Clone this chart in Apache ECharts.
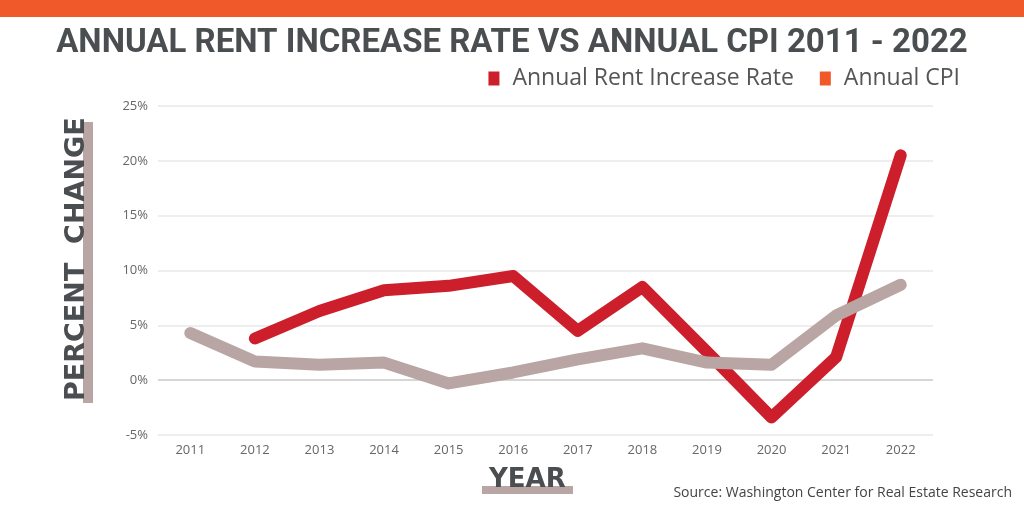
<!DOCTYPE html>
<html>
<head>
<meta charset="utf-8">
<script src="https://cdn.jsdelivr.net/npm/echarts@6/dist/echarts.min.js"></script>
<style>
    html, body {margin: 0; padding: 0; background: #fff;}
    #main {width: 1024px; height: 512px;}
</style>
</head>
<body>
<div id="main"></div>
<script>
// 年份
var years = ['2011', '2012', '2013', '2014', '2015', '2016', '2017', '2018', '2019', '2020', '2021', '2022'];
// 租金年增长率 (2011 无数据)
var rentRate = [null, 3.8, 6.3, 8.2, 8.6, 9.5, 4.5, 8.5, 2.6, -3.4, 2.1, 20.5];
// CPI
var cpiRate = [4.3, 1.7, 1.4, 1.6, -0.3, 0.7, 1.9, 2.9, 1.6, 1.4, 5.9, 8.7];
var yTicks = [-5, 0, 5, 10, 15, 20, 25];

var chart = document.getElementById('main');
var myChart = echarts.init(chart);

function loadingOption() {
    var option = {
        animation: false,
        backgroundColor: '#fff',
        title: {
            text: 'ANNUAL RENT INCREASE RATE VS ANNUAL CPI 2011 - 2022',
            left: 'center',
            top: 22,
            textStyle: {
                color: '#4b4e51',
                fontSize: 33,
                fontWeight: 'bold',
                fontFamily: 'Roboto'
            }
        },
        legend: {
            right: 59,
            top: 62,
            itemWidth: 11,
            itemHeight: 14,
            itemGap: 26,
            icon: 'rect',
            textStyle: {
                color: '#555',
                fontSize: 23,
                fontFamily: 'Open Sans',
                padding: [0, 0, 0, 8]
            },
            data: [
                {name: 'Annual Rent Increase Rate', itemStyle: {color: '#cc1f2b'}},
                {name: 'Annual CPI', itemStyle: {color: '#f05a28'}}
            ]
        },
        grid: {
            left: 158,
            right: 91,
            top: 106,
            bottom: 77
        },
        xAxis: {
            type: 'category',
            data: years,
            boundaryGap: true,
            axisLine: {show: false},
            axisTick: {show: false},
            axisLabel: {
                color: '#666',
                fontSize: 13,
                fontFamily: 'Open Sans',
                margin: 9
            }
        },
        yAxis: {
            type: 'value',
            min: yTicks[0],
            max: yTicks[yTicks.length - 1],
            interval: 5,
            axisLine: {show: false},
            axisTick: {show: false},
            axisLabel: {
                color: '#666',
                fontSize: 13,
                fontFamily: 'Open Sans',
                margin: 10,
                formatter: '{value}%'
            },
            splitLine: {
                lineStyle: {
                    // 0% 线颜色深一点
                    color: ['#e8e8e8', '#c9c9c9', '#e8e8e8', '#e8e8e8', '#e8e8e8', '#e8e8e8', '#e8e8e8'],
                    width: 1.5
                }
            }
        },
        series: [{
            name: 'Annual Rent Increase Rate',
            type: 'line',
            data: rentRate,
            symbol: 'none',
            connectNulls: false,
            lineStyle: {color: '#cc1f2b', width: 12, cap: 'round', join: 'round'},
            itemStyle: {color: '#cc1f2b'},
            z: 3
        }, {
            name: 'Annual CPI',
            type: 'line',
            data: cpiRate,
            symbol: 'none',
            lineStyle: {color: '#b9a5a4', width: 12, cap: 'round', join: 'round'},
            itemStyle: {color: '#f05a28'},
            z: 4
        }],
        graphic: [{
            // 顶部橙色条
            type: 'rect',
            left: 0, top: 0,
            shape: {width: 1024, height: 17},
            style: {fill: '#f05a2b'}
        }, {
            type: 'rect',
            left: 83, top: 122,
            shape: {width: 10, height: 281},
            style: {fill: '#b9a5a4'}
        }, {
            // 竖排的 y 轴标题
            type: 'text',
            x: 90, y: 401,
            rotation: Math.PI / 2,
            style: {
                text: 'PERCENT  CHANGE',
                fill: '#4b4e51',
                font: 'bold 27px "DejaVu Sans"',
                align: 'left',
                verticalAlign: 'bottom'
            }
        }, {
            type: 'rect',
            left: 482, top: 486,
            shape: {width: 91, height: 8},
            style: {fill: '#b9a5a4'}
        }, {
            type: 'text',
            left: 489, top: 467,
            style: {
                text: 'YEAR',
                fill: '#4b4e51',
                font: 'bold 26px "DejaVu Sans"'
            }
        }, {
            type: 'text',
            right: 12, top: 486,
            style: {
                text: 'Source: Washington Center for Real Estate Research',
                fill: '#444',
                font: '14px "Open Sans"'
            }
        }]
    };
    return option;
}

myChart.setOption(loadingOption());
</script>
</body>
</html>
